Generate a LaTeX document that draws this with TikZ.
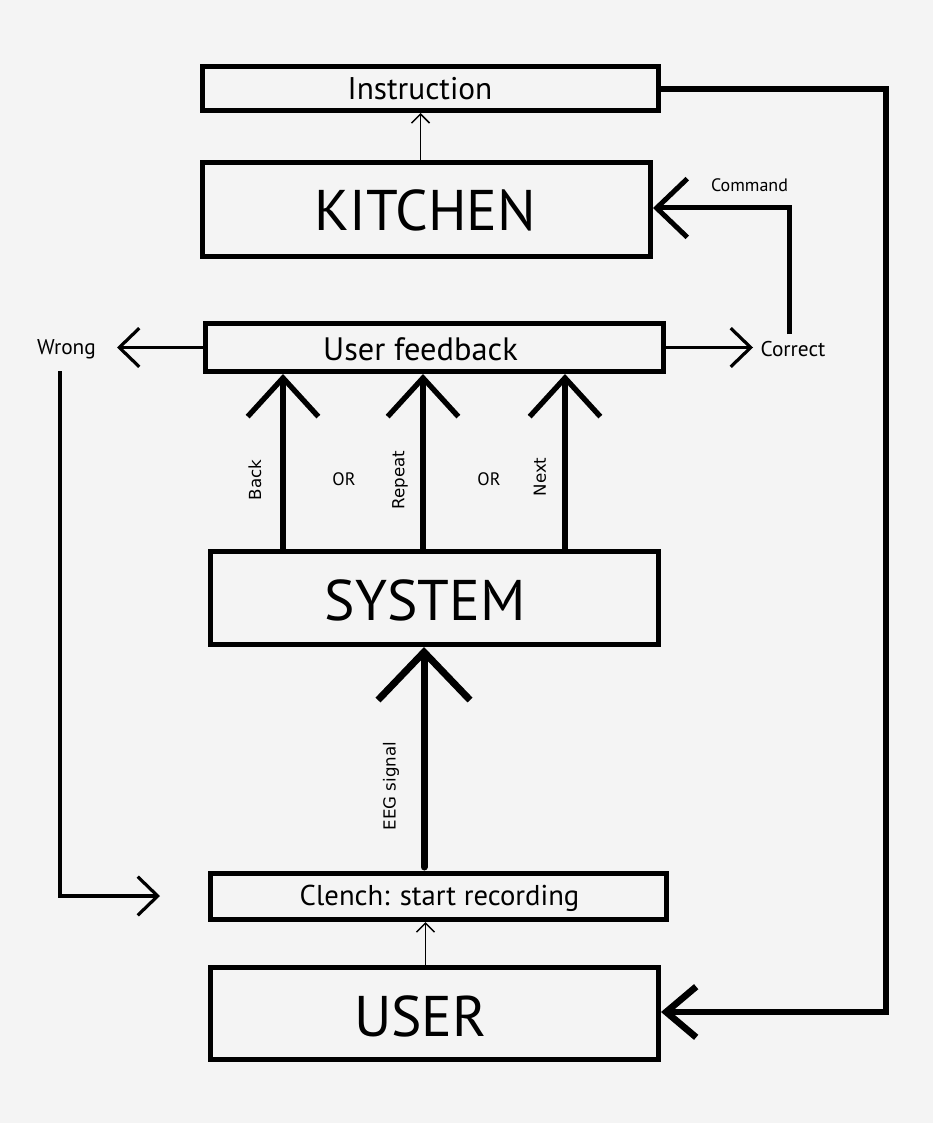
\documentclass[tikz,border=0pt]{standalone}
\usepackage{fontspec}
\setmainfont{PT Sans}
\newfontfamily\lblfont{DejaVu Sans}
\usetikzlibrary{arrows.meta,calc}
\definecolor{bgc}{HTML}{F4F4F4}
\begin{document}
\begin{tikzpicture}[x=0.75pt,y=-0.75pt,
  box/.style={draw=black, line width=3.75pt, inner sep=0pt},
  bigtxt/.style={font=\fontsize{43}{50}\selectfont, inner sep=0pt},
  medtxt/.style={font=\fontsize{24.3}{28}\selectfont, inner sep=0pt},
  smltxt/.style={font=\fontsize{13.5}{16}\selectfont, inner sep=0pt},
  sidetxt/.style={font=\fontsize{16}{19}\selectfont, inner sep=0pt},
  rottxt/.style={font=\lblfont\fontsize{12.5}{15}\selectfont, inner sep=0pt, rotate=90},
  thinarr/.style={line width=1.1pt, -{Straight Barb[length=6.75pt,width=13.5pt]}},
  fbarr/.style={line width=4pt, -{Straight Barb[length=29pt,width=53pt]}},
  eegarr/.style={line width=5.25pt, line cap=round, -{Straight Barb[length=36pt,width=69pt]}},
  cmdarr/.style={line width=3.75pt, -{Straight Barb[length=23pt,width=44pt]}},
  looparr/.style={line width=5pt, -{Straight Barb[length=22.5pt,width=38pt]}},
  sidearr/.style={line width=2.4pt, -{Straight Barb[length=15pt,width=29pt]}},
]
\fill[bgc] (0,0) rectangle (933,1123);
\useasboundingbox (0,0) rectangle (933,1123);

% boxes
\node[box, minimum width=342pt, minimum height=33pt] (ins) at (430.5,88.5) {};
\node[box, minimum width=336pt, minimum height=70.5pt] (kit) at (426.5,209.5) {};
\node[box, minimum width=343.5pt, minimum height=36pt] (fb) at (434.5,347.5) {};
\node[box, minimum width=336pt, minimum height=69.75pt] (sys) at (434.5,598) {};
\node[box, minimum width=342pt, minimum height=34.5pt] (cl) at (438.5,896.5) {};
\node[box, minimum width=336pt, minimum height=69pt] (usr) at (434.5,1013.5) {};

% box texts
\node[font=\fontsize{23.5}{27}\selectfont, inner sep=0pt] (insT) at (420,88.5) {Instruction};
\node[bigtxt] (kitT) at (425.5,210) {KITCHEN};
\node[medtxt] (fbT) at (420.5,349) {User feedback};
\node[bigtxt] (sysT) at (425,600) {SYSTEM};
\node[font=\fontsize{21.5}{25}\selectfont, inner sep=0pt] (clT) at (439.5,898) {Clench: start recording};
\node[bigtxt] (usrT) at (420.5,1016) {USER};

% side labels
\node[smltxt] (cmdT) at (749.5,185) {Command};
\node[sidetxt] (wrT) at (66.5,349) {Wrong};
\node[sidetxt] (coT) at (793,349) {Correct};
\node[rottxt] (backT) at (255,480) {Back};
\node[rottxt] (repT) at (400,480) {Repeat};
\node[rottxt] (nextT) at (540,477) {Next};
\node[rottxt] (eegT) at (391,786) {EEG signal};
\node[smltxt] (or1) at (344,479) {OR};
\node[smltxt] (or2) at (489,479) {OR};

% helper coordinates
\coordinate (xI) at (420.5,0);
\coordinate (xB) at (283,0);
\coordinate (xR) at (423,0);
\coordinate (xN) at (565,0);
\coordinate (xE) at (424,0);
\coordinate (xU) at (425.5,0);
\coordinate (rc) at (886,89);
\coordinate (cmdS) at (789.5,334);
\coordinate (wrTip) at (117,347.5);
\coordinate (coTip) at (753,347.5);
\coordinate (wl1) at (60,371);
\coordinate (wl2) at (160,896);

% connectors
\draw[thinarr] (kit.north -| xI) -- (ins.south -| xI);
\draw[thinarr] (usr.north -| xU) -- (cl.south -| xU);
\draw[fbarr] (sys.north -| xB) -- (fb.south -| xB);
\draw[fbarr] (sys.north -| xR) -- (fb.south -| xR);
\draw[fbarr] (sys.north -| xN) -- (fb.south -| xN);
\draw[eegarr] ($(cl.north -| xE)+(0,-4)$) -- (sys.south -| xE);
\draw[cmdarr] (cmdS) |- ($(kit.east)+(0,-1.5)$);
\draw[sidearr] (fb.west) -- (wrTip);
\draw[sidearr] (fb.east) -- (coTip);
\draw[sidearr] (wl1) |- (wl2);
\draw[looparr] (ins.east |- rc) -- (rc) |- ($(usr.east)+(0,-1.5)$);
\end{tikzpicture}
\end{document}
